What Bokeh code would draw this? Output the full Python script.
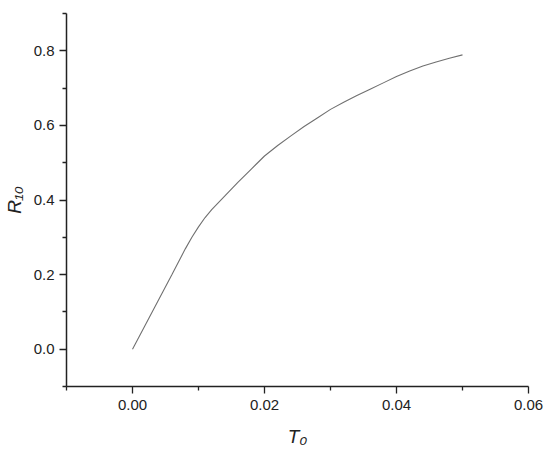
from bokeh.plotting import figure
from bokeh.models import FixedTicker, Range1d
from bokeh.embed import file_html
from bokeh.resources import INLINE

# Data
t0 = [0.0, 0.002, 0.004, 0.006, 0.008, 0.009, 0.010, 0.011, 0.012, 0.014,
      0.016, 0.018, 0.020, 0.022, 0.024, 0.026, 0.028, 0.030, 0.032, 0.034,
      0.036, 0.038, 0.040, 0.042, 0.044, 0.046, 0.048, 0.050]
r10 = [0.0, 0.067, 0.134, 0.201, 0.269, 0.300, 0.328, 0.353, 0.374, 0.411,
       0.448, 0.483, 0.518, 0.546, 0.572, 0.597, 0.620, 0.643, 0.662, 0.680,
       0.697, 0.714, 0.731, 0.746, 0.759, 0.770, 0.780, 0.789]

x_major = [0.0, 0.02, 0.04, 0.06]
x_minor = [-0.01, 0.01, 0.03, 0.05]
y_major = [0.0, 0.2, 0.4, 0.6, 0.8]
y_minor = [-0.1, 0.1, 0.3, 0.5, 0.7, 0.9]

p = figure(width=550, height=450, output_backend="svg", toolbar_location=None,
           x_range=Range1d(-0.01, 0.06), y_range=Range1d(-0.1, 0.9),
           min_border_left=66, min_border_top=13, min_border_bottom=64,
           min_border_right=22)
p.outline_line_color = None
p.grid.visible = False
p.background_fill_color = "white"

p.line(t0, r10, line_color="#707070", line_width=1.1)

for ax in (p.xaxis[0], p.yaxis[0]):
    ax.axis_line_color = "#222222"
    ax.axis_line_width = 1.5
    ax.major_tick_line_color = "#222222"
    ax.minor_tick_line_color = "#222222"
    ax.major_tick_line_width = 1.3
    ax.minor_tick_line_width = 1.3
    ax.major_tick_out = 7
    ax.major_tick_in = 0
    ax.minor_tick_out = 4
    ax.minor_tick_in = 0
    ax.major_label_text_font = "Liberation Sans"
    ax.major_label_text_font_size = "15px"
    ax.major_label_text_color = "#222222"
    ax.axis_label_text_font = "Liberation Sans"
    ax.axis_label_text_font_size = "19px"
    ax.axis_label_text_font_style = "italic"
    ax.axis_label_text_color = "#222222"

p.xaxis[0].ticker = FixedTicker(ticks=x_major, minor_ticks=x_minor)
p.yaxis[0].ticker = FixedTicker(ticks=y_major, minor_ticks=y_minor)
p.xaxis[0].major_label_overrides = {0.0: "0.00", 0.02: "0.02", 0.04: "0.04", 0.06: "0.06"}
p.yaxis[0].major_label_overrides = {0.0: "0.0", 0.2: "0.2", 0.4: "0.4", 0.6: "0.6", 0.8: "0.8"}
p.xaxis[0].axis_label = "T₀"
p.yaxis[0].axis_label = "R₁₀"
p.xaxis[0].major_label_standoff = 6
p.xaxis[0].axis_label_standoff = 13
p.yaxis[0].major_label_standoff = 5
p.yaxis[0].axis_label_standoff = 6

open("out.html", "w").write(file_html(p, INLINE))
